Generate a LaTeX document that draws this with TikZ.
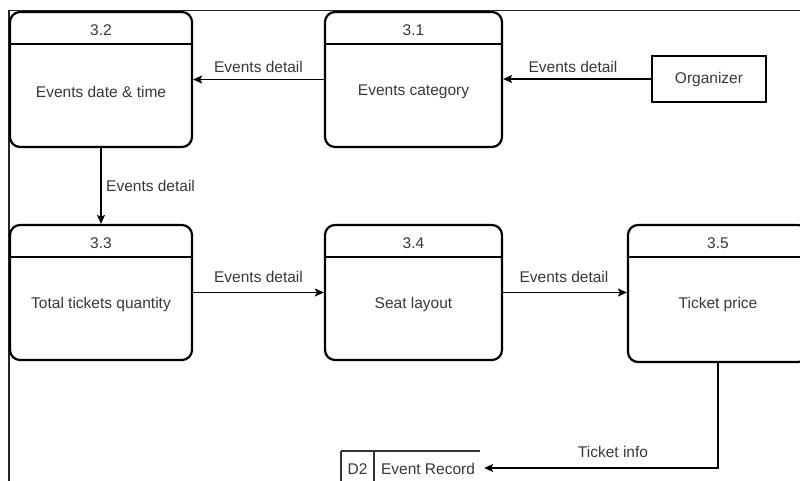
\documentclass[tikz,border=0pt]{standalone}
\usepackage{fontspec}
\setmainfont{Liberation Sans}
\usetikzlibrary{arrows.meta}
\definecolor{ink}{HTML}{383838}
\begin{document}
\begin{tikzpicture}[x=1pt,y=-1pt,
  lbl/.style={font=\fontsize{15.5}{18}\selectfont, text=ink, inner sep=0pt},
  proc/.style={draw=black, line width=2.2pt, rounded corners=10pt,
    minimum height=135pt, inner sep=0pt},
  ext/.style={draw=black, line width=1.4pt, minimum width=114pt,
    minimum height=46pt, inner sep=0pt, font=\fontsize{15.5}{18}\selectfont, text=ink},
  hdr/.style={line width=2pt},
  flow/.style={line width=1.3pt, -{Stealth[length=9pt,width=8pt,inset=2pt]}},
  frame/.style={line width=1.5pt, draw=black!85},
  storeline/.style={line width=1.4pt, draw=black!80}
]
\useasboundingbox (0,0) rectangle (800,481);
\clip (0,0) rectangle (800,481);

% outer frame of the sheet
\coordinate (fr0) at (9,10.5);
\draw[frame] (9,481) -- (fr0) -- (800,10.5);

% processes
\node[proc, minimum width=182pt] (p32) at (101,79.5) {};
\node[proc, minimum width=177pt] (p31) at (413.5,79.5) {};
\node[proc, minimum width=182pt] (p33) at (101,292.5) {};
\node[proc, minimum width=177pt] (p34) at (413.5,292.5) {};
\node[proc, minimum width=180pt, minimum height=137pt] (p35) at (718,293.5) {};

\foreach \p/\num/\txt in {p32/3.2/{Events date \& time}, p31/3.1/{Events category},
    p33/3.3/{Total tickets quantity}, p34/3.4/{Seat layout}, p35/3.5/{Ticket price}} {
  \draw[hdr] ([yshift=-33pt]\p.north west) -- ([yshift=-33pt]\p.north east);
  \node[lbl] (\p num) at ([yshift=-19pt]\p.north) {\num};
  \node[lbl] (\p txt) at ([yshift=-81pt]\p.north) {\txt};
}

% external entity
\node[ext] (org) at (709,79) {Organizer};

% data store
\node[minimum width=143pt, minimum height=34pt, inner sep=0pt] (store) at (412.5,468) {};
\draw[storeline] (store.north west) -- ++(139,0);
\draw[storeline] (store.north west) -- (store.south west);
\coordinate (div) at ([xshift=33pt]store.north west);
\draw[storeline] (div) -- (div |- store.south);
\node[lbl] (d2) at (357.5,469) {D2};
\node[lbl] (rec) at (428,469) {Event Record};

% data flows
\draw[flow] (org.west) -- (org.west -| p31.east);
\draw[flow] (p31.west) -- (p32.east);
\draw[flow] (p32.south) -- (p33.north);
\draw[flow] (p33.east) -- (p34.west);
\draw[flow] (p34.east) -- (p35.west |- p34.east);
\draw[flow] (p35.south) |- (store.east);

% flow labels
\node[lbl] (l1) at (573,67) {Events detail};
\node[lbl] (l2) at (258.5,67) {Events detail};
\node[lbl, anchor=west] (l3) at (106,186) {Events detail};
\node[lbl] (l4) at (258.5,277) {Events detail};
\node[lbl] (l5) at (564,277) {Events detail};
\node[lbl] (l6) at (613,452) {Ticket info};
\end{tikzpicture}
\end{document}
